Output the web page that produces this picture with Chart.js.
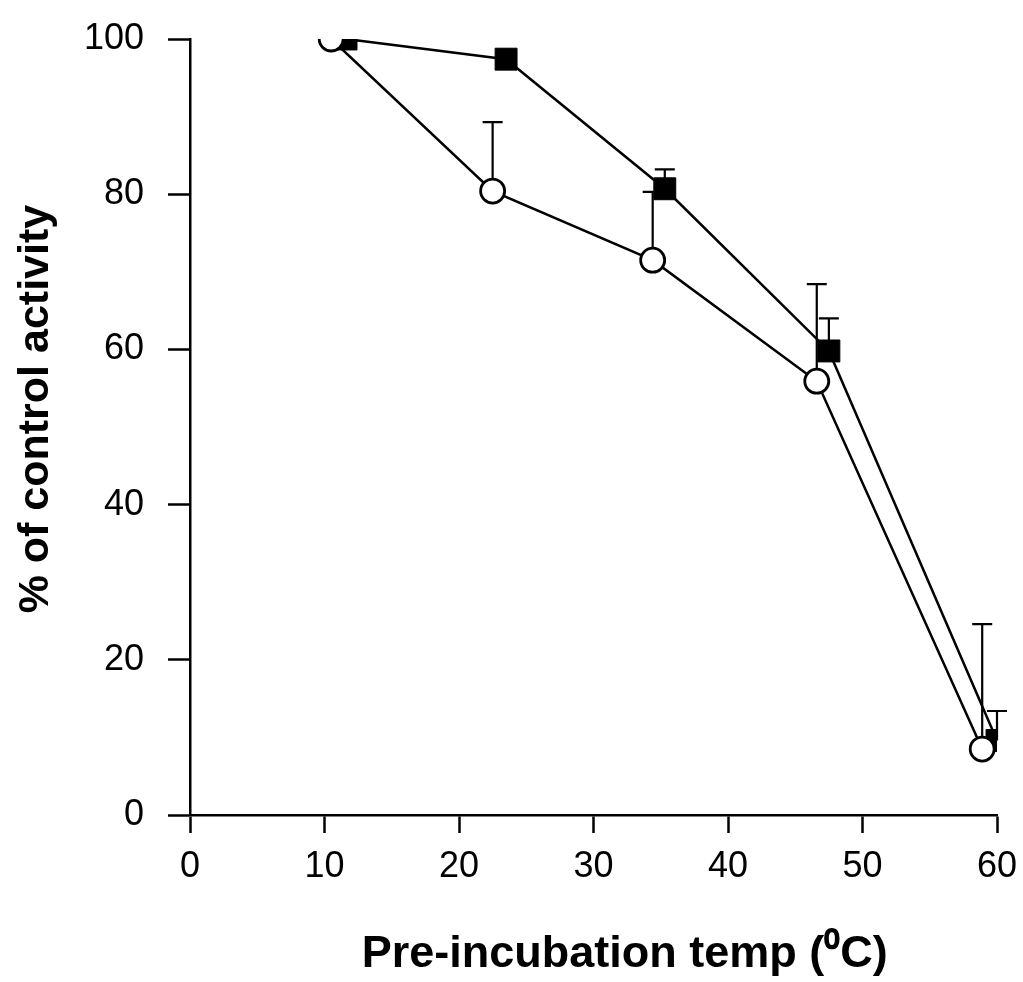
<!DOCTYPE html>
<html>
<head>
<meta charset="utf-8">
<script src="https://cdn.jsdelivr.net/npm/chart.js@4.4.1/dist/chart.umd.min.js"></script>
<style>
  html, body { margin: 0; padding: 0; background: #fff; }
  #wrap { width: 1023px; height: 982px; }
</style>
</head>
<body>
<div id="wrap"><canvas id="chart" width="1023" height="982"></canvas></div>
<script>
// open circles
var tempCircle = [10.5, 22.5, 34.4, 46.6, 58.9]
var actCircle = [100, 80.4, 71.5, 55.9, 8.5]
var errCircle = [0, 8.9, 8.8, 12.5, 16.1]

// filled squares
var tempSquare = [11.6, 23.5, 35.3, 47.5, 60.0]
var actSquare = [100, 97.4, 80.7, 59.8, 9.6]
var errSquare = [0, 0, 2.5, 4.2, 3.8]

var xTicks = [0, 10, 20, 30, 40, 50, 60]
var yTicks = [0, 20, 40, 60, 80, 100]

function toPoints(xs, ys) {
    return xs.map((x, i) => ({x: x, y: ys[i]}))
}

// upward error bars with a small cap, drawn under the markers
const errorBars = {
    id: 'errorBars',
    beforeDatasetsDraw(chart) {
        const ctx = chart.ctx
        const xs = chart.scales.x, ys = chart.scales.y
        ctx.save()
        ctx.strokeStyle = '#000'
        ctx.lineWidth = 2.2
        chart.data.datasets.forEach(ds => {
            ds.data.forEach((p, i) => {
                const e = ds.errors[i]
                if (!e) return
                const px = xs.getPixelForValue(p.x)
                const y0 = ys.getPixelForValue(p.y)
                const y1 = ys.getPixelForValue(p.y + e)
                ctx.beginPath()
                ctx.moveTo(px, y0)
                ctx.lineTo(px, y1)
                ctx.moveTo(px - 10, y1)
                ctx.lineTo(px + 10, y1)
                ctx.stroke()
            })
        })
        ctx.restore()
    }
}

const tickFont = {family: '"Liberation Sans", Arial, sans-serif', size: 36}
const xTitleFont = {family: '"Liberation Sans", Arial, sans-serif', size: 45, weight: 'bold'}
const yTitleFont = {family: '"Liberation Sans", Arial, sans-serif', size: 43, weight: 'bold'}

new Chart(document.getElementById('chart').getContext('2d'), {
    type: 'scatter',
    data: {
        datasets: [{
            label: 'open',
            data: toPoints(tempCircle, actCircle),
            errors: errCircle,
            showLine: true,
            borderColor: '#000',
            borderWidth: 2.5,
            pointStyle: 'circle',
            pointRadius: 12,
            pointBorderWidth: 2.8,
            pointBackgroundColor: '#fff',
            pointBorderColor: '#000'
        }, {
            label: 'filled',
            data: toPoints(tempSquare, actSquare),
            errors: errSquare,
            showLine: true,
            borderColor: '#000',
            borderWidth: 2.5,
            pointStyle: 'rect',
            pointRadius: 15.5,
            pointBorderWidth: 1,
            pointBackgroundColor: '#000',
            pointBorderColor: '#000'
        }]
    },
    options: {
        responsive: false,
        animation: false,
        layout: {padding: {top: 39, right: 26, bottom: 0, left: 10}},
        plugins: {
            legend: {display: false},
            tooltip: {enabled: false}
        },
        scales: {
            x: {
                type: 'linear',
                min: 0,
                max: 60,
                afterBuildTicks: s => { s.ticks = xTicks.map(v => ({value: v})) },
                afterFit: s => { s.height = 982 - 815; s.paddingLeft = 0; s.paddingRight = 0 },
                border: {display: true, color: '#000', width: 2.5},
                grid: {display: true, drawOnChartArea: false, drawTicks: true, tickLength: 18, tickWidth: 2.5, tickColor: '#000'},
                ticks: {color: '#000', font: tickFont, padding: 12, maxRotation: 0},
                title: {display: true, text: '     Pre-incubation temp (\u2070C)', color: '#000', font: xTitleFont, padding: {top: 27, bottom: 0}}
            },
            y: {
                type: 'linear',
                min: 0,
                max: 100,
                afterBuildTicks: s => { s.ticks = yTicks.map(v => ({value: v})) },
                afterFit: s => { s.width = 190 - 10; s.paddingTop = 0; s.paddingBottom = 0 },
                border: {display: true, color: '#000', width: 2.5},
                grid: {display: true, drawOnChartArea: false, drawTicks: true, tickLength: 22, tickWidth: 2.5, tickColor: '#000'},
                ticks: {color: '#000', font: tickFont, padding: 24},
                title: {display: true, text: '   % of control activity', color: '#000', font: yTitleFont, padding: {top: 0, bottom: 30}}
            }
        }
    },
    plugins: [errorBars]
});
</script>
</body>
</html>
